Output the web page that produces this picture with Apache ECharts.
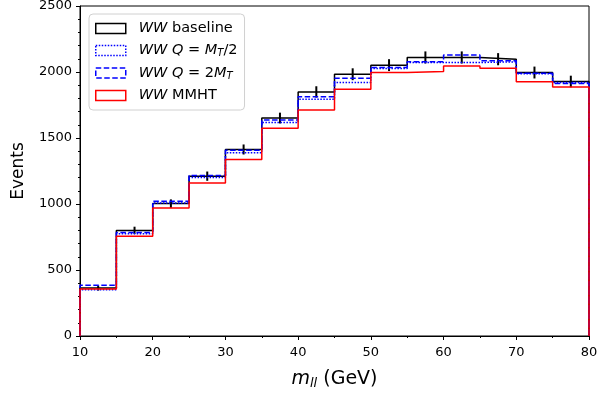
<!DOCTYPE html>
<html>
<head>
<meta charset="utf-8">
<script src="https://cdn.jsdelivr.net/npm/echarts@6/dist/echarts.min.js"></script>
<style>
  html, body { margin: 0; padding: 0; background: #fff; }
  #chart { width: 598px; height: 393px; }
</style>
</head>
<body>
<div id="chart"></div>
<script>
// bin edges (GeV) and bin contents
const binEdges = [10, 15, 20, 25, 30, 35, 40, 45, 50, 55, 60, 65, 70, 75, 80]
const baseline = [363, 800, 1003, 1211, 1413, 1651, 1849, 1983, 2052, 2110, 2110, 2097, 1996, 1928]
const qHalf    = [350, 775, 1008, 1200, 1388, 1618, 1793, 1920, 2027, 2072, 2072, 2077, 1986, 1920]
const qDouble  = [384, 785, 1020, 1215, 1408, 1636, 1813, 1953, 2035, 2078, 2128, 2085, 1990, 1913]
const mmht     = [357, 755, 970, 1160, 1337, 1573, 1712, 1869, 1996, 2003, 2046, 2029, 1927, 1887]
const errors   = [19, 28, 32, 35, 38, 41, 43, 45, 45, 46, 46, 46, 45, 44]

// histtype='step' outline: up from 0 at first edge, down to 0 at last edge
const stepData = (vals) => {
    const pts = [[binEdges[0], 0]]
    vals.forEach((v, i) => pts.push([binEdges[i], v]))
    pts.push([binEdges[binEdges.length - 1], vals[vals.length - 1]])
    pts.push([binEdges[binEdges.length - 1], 0])
    return pts
}

const errData = baseline.map((v, i) => [(binEdges[i] + binEdges[i + 1]) / 2, v, errors[i]])

const font = 'DejaVu Sans'
const styles = {
    base:   { color: '#000000', type: 'solid' },
    half:   { color: '#0000ff', type: [1.5, 1.5] },
    double: { color: '#0000ff', type: [5.5, 2.5] },
    mmht:   { color: '#ff0000', type: 'solid' }
}
const stepSeries = (name, vals) => ({
    name: name,
    type: 'line',
    step: 'end',
    data: stepData(vals),
    showSymbol: false,
    symbol: 'none',
    silent: true,
    animation: false,
    lineStyle: { color: styles[name].color, width: 1.5, type: styles[name].type }
})
const legendItem = (name) => ({
    name: name,
    itemStyle: { color: '#fff', borderColor: styles[name].color, borderWidth: 1.5, borderType: styles[name].type }
})

const chart = echarts.init(document.getElementById('chart'))
chart.setOption({
    animation: false,
    textStyle: { fontFamily: font },
    grid: {
        left: 80, right: 9, top: 6, bottom: 57,
        outerBoundsMode: 'none', containLabel: false,
        show: true, borderColor: '#000', borderWidth: 1
    },
    legend: {
        left: 89, top: 14,
        orient: 'vertical',
        icon: 'rect',
        itemWidth: 30, itemHeight: 10,
        itemGap: 7,
        padding: [7, 7, 7, 6],
        backgroundColor: '#fff',
        borderColor: '#d0d0d0',
        borderWidth: 1,
        borderRadius: 4,
        selectedMode: false,
        data: ['base', 'half', 'double', 'mmht'].map(legendItem),
        formatter: (n) => ({
            base: '{i|WW} baseline',
            half: '{i|WW Q} = {i|M}{s|T}/2',
            double: '{i|WW Q} = 2{i|M}{s|T}',
            mmht: '{i|WW} MMHT'
        })[n],
        textStyle: {
            fontSize: 14.5, color: '#000', padding: [0, 0, 0, 8],
            rich: {
                i: { fontSize: 14.5, fontStyle: 'italic', fontFamily: font },
                s: { fontSize: 10, fontStyle: 'italic', fontFamily: font, verticalAlign: 'bottom', padding: [6, 0, 0, 0] }
            }
        }
    },
    xAxis: {
        type: 'value', min: 10, max: 80, interval: 10,
        name: '{i|m}{s|ll} (GeV)',
        nameLocation: 'middle', nameGap: 33,
        nameTextStyle: {
            fontSize: 19, color: '#000',
            rich: {
                i: { fontSize: 19, fontStyle: 'italic', fontFamily: font },
                s: { fontSize: 13, fontStyle: 'italic', fontFamily: font, padding: [8, 0, 0, 0] }
            }
        },
        axisLine: { onZero: false, lineStyle: { color: '#000', width: 1 } },
        axisTick: { show: true, inside: false, length: 4, lineStyle: { color: '#000' } },
        minorTick: { show: true, splitNumber: 2, length: 2, lineStyle: { color: '#000' } },
        axisLabel: { fontSize: 13, color: '#000', margin: 10 },
        splitLine: { show: false }
    },
    yAxis: {
        type: 'value', min: 0, max: 2500, interval: 500,
        name: 'Events',
        nameLocation: 'middle', nameGap: 53,
        nameTextStyle: { fontSize: 17, color: '#000' },
        axisLine: { show: true, lineStyle: { color: '#000', width: 1 } },
        axisTick: { show: true, inside: false, length: 4, lineStyle: { color: '#000' } },
        minorTick: { show: true, splitNumber: 5, length: 2, lineStyle: { color: '#000' } },
        axisLabel: { fontSize: 13, color: '#000', margin: 8, formatter: (v) => String(v) },
        splitLine: { show: false }
    },
    series: [
        stepSeries('base', baseline),
        stepSeries('half', qHalf),
        stepSeries('double', qDouble),
        stepSeries('mmht', mmht),
        {
            name: 'err',
            type: 'custom',
            silent: true,
            data: errData,
            renderItem: (params, api) => {
                const x = api.value(0), y = api.value(1), e = api.value(2)
                const p1 = api.coord([x, y - e])
                const p2 = api.coord([x, y + e])
                return {
                    type: 'line',
                    shape: { x1: p1[0], y1: p1[1], x2: p2[0], y2: p2[1] },
                    style: { stroke: '#000', lineWidth: 2 }
                }
            }
        }
    ]
})
</script>
</body>
</html>
